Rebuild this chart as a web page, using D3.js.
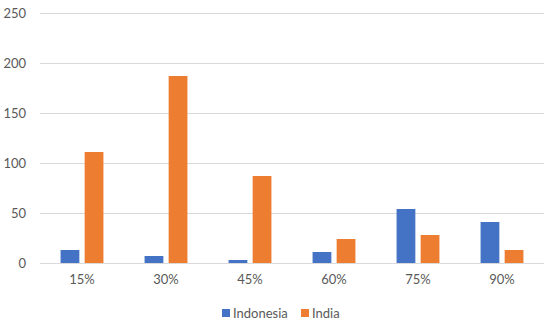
<!DOCTYPE html>
<html><head><meta charset="utf-8">
<script src="https://cdn.jsdelivr.net/npm/d3@7"></script>
<style>body{margin:0;background:#fff;} text{font-family:Lato, "Open Sans", sans-serif;}</style>
</head><body><svg id="c" width="550" height="321"></svg>
<script>
const categories = ["15%","30%","45%","60%","75%","90%"];
const seriesNames = ["Indonesia","India"];
const indonesia = [13,7,3,11,54,41];
const india = [111,187,87,24,28,13];
const yTicks = [0,50,100,150,200,250];
const colors = ["#4472C4","#ED7D31"];

const svg = d3.select("#c");
const m = {l:40, r:6, t:13, b:58};
const W = 550, H = 321;
const x = d3.scaleBand().domain(categories).range([m.l, W-m.r]).paddingInner(0.49).paddingOuter(0.245);
const x1 = d3.scaleBand().domain(seriesNames).range([0, x.bandwidth()]).paddingInner(0.22);
const y = d3.scaleLinear().domain([0,250]).range([H-m.b, m.t]);

const grid = svg.append("g");
grid.selectAll("line").data(yTicks).join("line")
  .attr("x1", m.l).attr("x2", W-m.r)
  .attr("y1", d=>Math.round(y(d))+0.5).attr("y2", d=>Math.round(y(d))+0.5)
  .attr("stroke", "#d9d9d9").attr("stroke-width", 1);

const yAxis = svg.append("g").attr("transform", `translate(${m.l},0)`)
  .call(d3.axisLeft(y).tickValues(yTicks).tickSize(0).tickPadding(14));
yAxis.select(".domain").remove();
yAxis.selectAll("text").attr("fill","#595959").style("font-size","13px");

const xAxis = svg.append("g").attr("transform", `translate(0,${H-m.b})`)
  .call(d3.axisBottom(x).tickSize(0).tickPadding(12));
xAxis.select(".domain").remove();
xAxis.selectAll("text").attr("fill","#595959").style("font-size","13px");

const data = categories.map((c,i)=>({c, vals:[indonesia[i], india[i]]}));
const g = svg.append("g");
data.forEach(d=>{
  d.vals.forEach((v,j)=>{
    g.append("rect")
      .attr("x", x(d.c)+x1(seriesNames[j]))
      .attr("width", x1.bandwidth())
      .attr("y", y(v)).attr("height", y(0)-y(v))
      .attr("fill", colors[j]);
  });
});

const leg = svg.append("g");
const legX = [222, 301];
seriesNames.forEach((s,j)=>{
  leg.append("rect").attr("x", legX[j]).attr("y", 309).attr("width", 8).attr("height", 8).attr("fill", colors[j]);
  leg.append("text").attr("x", legX[j]+11).attr("y", 317.5).text(s).attr("fill","#595959").style("font-size","13px");
});
</script></body></html>
